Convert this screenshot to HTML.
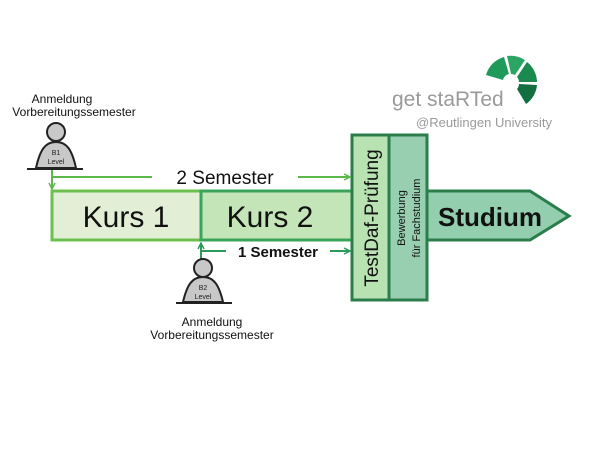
<!DOCTYPE html>
<html><head><meta charset="utf-8"><style>
body{margin:0;background:#fff;}
svg{display:block;}
text{font-family:"Liberation Sans",sans-serif;}
</style></head><body>
<svg width="600" height="464" viewBox="0 0 600 464">
<defs>
<marker id="a" markerWidth="8" markerHeight="8" refX="7" refY="4" orient="auto" markerUnits="userSpaceOnUse"><path d="M1,1 L7,4 L1,7" fill="none" stroke="#5cb84a" stroke-width="1.5"/></marker>
<marker id="b" markerWidth="8" markerHeight="8" refX="7" refY="4" orient="auto" markerUnits="userSpaceOnUse"><path d="M1,1 L7,4 L1,7" fill="none" stroke="#2e9a5a" stroke-width="1.5"/></marker>
</defs>
<rect x="52" y="191" width="149" height="49" fill="#e2efd6" stroke="#6cc04e" stroke-width="3"/>
<rect x="201" y="191" width="151" height="49" fill="#c4e5b7" stroke="#3aa55a" stroke-width="3"/>
<text x="126" y="227" font-size="30" text-anchor="middle" fill="#111">Kurs 1</text>
<text x="270" y="227" font-size="30" text-anchor="middle" fill="#111">Kurs 2</text>
<polygon points="427,191 530,191 569,216 530,240 427,240" fill="#93cfae" stroke="#2b7d4c" stroke-width="3"/>
<text x="490" y="226" font-size="26" font-weight="bold" text-anchor="middle" fill="#111">Studium</text>
<rect x="352" y="135" width="37" height="165" fill="#b9e2b2" stroke="#2b7d4c" stroke-width="3"/>
<rect x="389" y="135" width="38" height="165" fill="#97cfb0" stroke="#2b7d4c" stroke-width="3"/>
<text transform="translate(378,218) rotate(-90)" font-size="19" text-anchor="middle" fill="#111">TestDaf-Prüfung</text>
<text transform="translate(405,218) rotate(-90)" font-size="11" text-anchor="middle" fill="#111">Bewerbung</text>
<text transform="translate(420,218) rotate(-90)" font-size="11" text-anchor="middle" fill="#111">für   Fachstudium</text>
<line x1="52" y1="169" x2="52" y2="189" stroke="#5cb84a" stroke-width="2" marker-end="url(#a)"/>
<line x1="52" y1="177" x2="152" y2="177" stroke="#5cb84a" stroke-width="2"/>
<line x1="298" y1="177" x2="350" y2="177" stroke="#5cb84a" stroke-width="2" marker-end="url(#a)"/>
<text x="225" y="184" font-size="19" text-anchor="middle" fill="#111">2 Semester</text>
<line x1="201" y1="262" x2="201" y2="243" stroke="#2e9a5a" stroke-width="2" marker-end="url(#b)"/>
<line x1="201" y1="251" x2="226" y2="251" stroke="#2e9a5a" stroke-width="2"/>
<line x1="330" y1="251" x2="350" y2="251" stroke="#2e9a5a" stroke-width="2" marker-end="url(#b)"/>
<text x="278" y="257" font-size="15" font-weight="bold" text-anchor="middle" fill="#111">1 Semester</text>
<circle cx="56" cy="132" r="9" fill="#c8c8c8" stroke="#222" stroke-width="2"/>
<path d="M36,168 C40,150 45,142 56,142 C67,142 72,150 76,168 Z" fill="#c8c8c8" stroke="#222" stroke-width="2"/>
<line x1="27" y1="169" x2="83" y2="169" stroke="#222" stroke-width="2"/>
<text x="56" y="155" font-size="7" text-anchor="middle" fill="#222">B1</text>
<text x="56" y="164" font-size="7" text-anchor="middle" fill="#222">Level</text>
<text x="62" y="103" font-size="12" text-anchor="middle" fill="#111">Anmeldung</text>
<text x="74" y="116" font-size="12" text-anchor="middle" fill="#111">Vorbereitungssemester</text>
<circle cx="203" cy="268" r="9" fill="#c8c8c8" stroke="#222" stroke-width="2"/>
<path d="M183,302 C187,285 192,277 203,277 C214,277 219,285 223,302 Z" fill="#c8c8c8" stroke="#222" stroke-width="2"/>
<line x1="176" y1="303" x2="232" y2="303" stroke="#222" stroke-width="2"/>
<text x="203" y="290" font-size="7" text-anchor="middle" fill="#222">B2</text>
<text x="203" y="299" font-size="7" text-anchor="middle" fill="#222">Level</text>
<text x="212" y="326" font-size="12" text-anchor="middle" fill="#111">Anmeldung</text>
<text x="212" y="339" font-size="12" text-anchor="middle" fill="#111">Vorbereitungssemester</text>
<g transform="translate(511,82)">
<path d="M-25,-7 A26,26 0 0 1 -7,-25 L-2,-8 A8,8 0 0 0 -8,-2 Z" fill="#1f9a5a"/>
<path d="M-4,-26 A26,26 0 0 1 14,-22 L4,-7 A8,8 0 0 0 0,-8 Z" fill="#2aa564"/>
<path d="M16,-20 A26,26 0 0 1 26,0 L8,0 A8,8 0 0 0 6,-5 Z" fill="#1a8a4f"/>
<path d="M26,3 A26,26 0 0 1 15,22 L6,7 A8,8 0 0 0 8,2 Z" fill="#127040"/>
</g>
<text x="392" y="106" font-size="21" fill="#9a9a9a">get staRTed</text>
<text x="416" y="127" font-size="13" fill="#9a9a9a">@Reutlingen University</text>
</svg>
</body></html>
